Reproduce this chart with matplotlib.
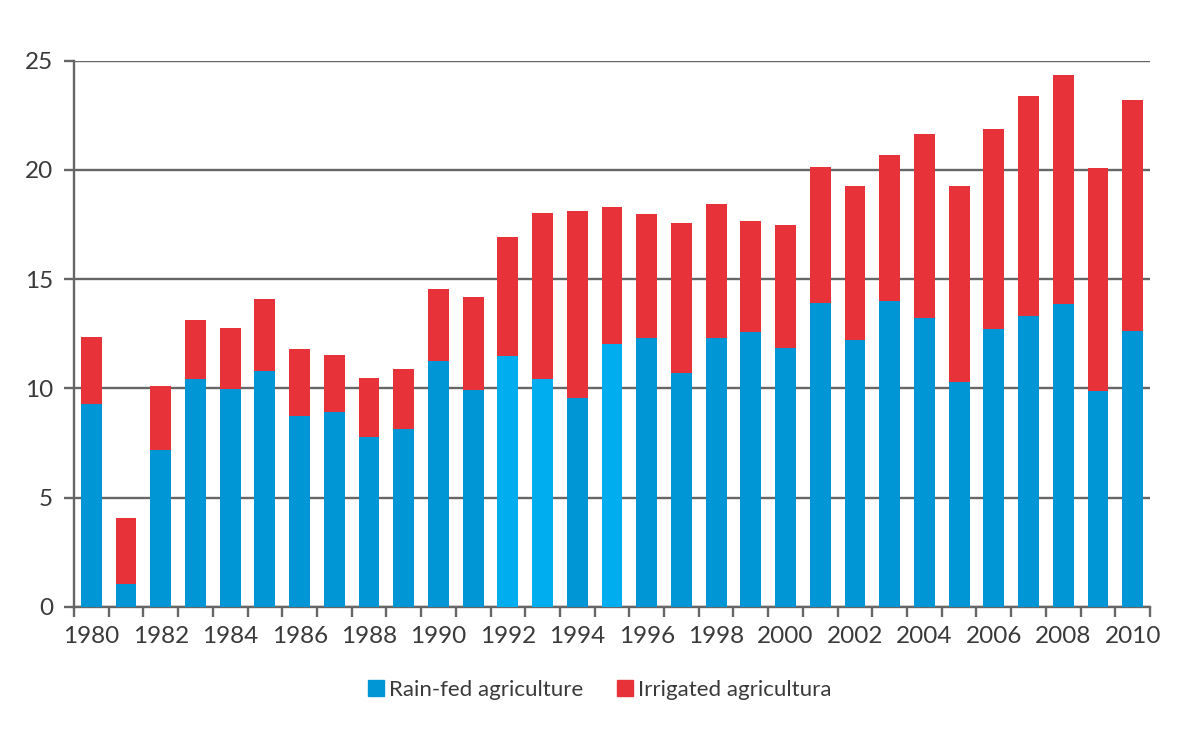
import matplotlib
matplotlib.use("Agg")
import matplotlib.pyplot as plt
from matplotlib.patches import Patch
import numpy as np

years = list(range(1980, 2011))
rainfed = [9.28, 1.04, 7.18, 10.41, 9.95, 10.79, 8.72, 8.9, 7.75, 8.12,
           11.25, 9.92, 11.48, 10.41, 9.56, 12.01, 12.29, 10.69, 12.29, 12.58,
           11.83, 13.9, 12.21, 13.98, 13.22, 10.28, 12.73, 13.3, 13.88, 9.86, 12.64]
total = [12.37, 4.05, 10.1, 13.13, 12.75, 14.08, 11.8, 11.52, 10.49, 10.87,
         14.55, 14.18, 16.91, 18.04, 18.13, 18.32, 17.97, 17.57, 18.42, 17.66,
         17.48, 20.13, 19.28, 20.7, 21.63, 19.24, 21.88, 23.39, 24.33, 20.1, 23.2]
irrigated = [round(t - r, 2) for t, r in zip(total, rainfed)]
light_years = [1992, 1993, 1995]
series_labels = ["Rain-fed agriculture", "Irrigated agricultura"]
yticks = [0, 5, 10, 15, 20, 25]

BLUE = "#0096d6"
LIGHT = "#00aeef"
RED = "#e8323a"
GRID = "#666666"
TXT = "#3a3a3a"

plt.rcParams["font.family"] = ["Lato", "DejaVu Sans"]

fig = plt.figure(figsize=(12, 7.43), dpi=100)
ax = fig.add_axes([74/1200, 1-606.7/743, (1150-74)/1200, (606.7-60.7)/743])

x = np.arange(len(years))
blue_colors = [LIGHT if y in light_years else BLUE for y in years]
ax.bar(x, rainfed, width=0.6, color=blue_colors, zorder=3)
ax.bar(x, irrigated, bottom=rainfed, width=0.6, color=RED, zorder=3)

ax.set_xlim(-0.5, len(years) - 0.5)
ax.set_ylim(0, 25)
ax.set_yticks(yticks)
ax.set_yticklabels([str(v) for v in yticks])
ax.yaxis.grid(True, color=GRID, linewidth=1.7, zorder=1)
ax.set_axisbelow(True)

ax.set_xticks(x[::2])
ax.set_xticklabels([str(y) for y in years[::2]])
ax.set_xticks(np.arange(-0.5, len(years)), minor=True)
ax.tick_params(axis="x", which="major", length=0, pad=14, labelsize=17.5, labelcolor=TXT)
ax.tick_params(axis="x", which="minor", length=7, width=1.7, color=GRID, direction="out")
ax.tick_params(axis="y", length=7, width=1.7, color=GRID, pad=8, labelsize=17.5, labelcolor=TXT)

for s in ["top", "right"]:
    ax.spines[s].set_visible(False)
for s in ["left", "bottom"]:
    ax.spines[s].set_color(GRID)
    ax.spines[s].set_linewidth(1.7)

handles = [Patch(color=BLUE, label=series_labels[0]), Patch(color=RED, label=series_labels[1])]
fig.legend(handles=handles, loc="center", bbox_to_anchor=(0.5, 1-690/743), ncol=2,
           frameon=False, fontsize=16, handlelength=0.7, handleheight=0.7,
           handletextpad=0.25, columnspacing=1.5, labelcolor=TXT)

fig.savefig("out.png", dpi=100)
